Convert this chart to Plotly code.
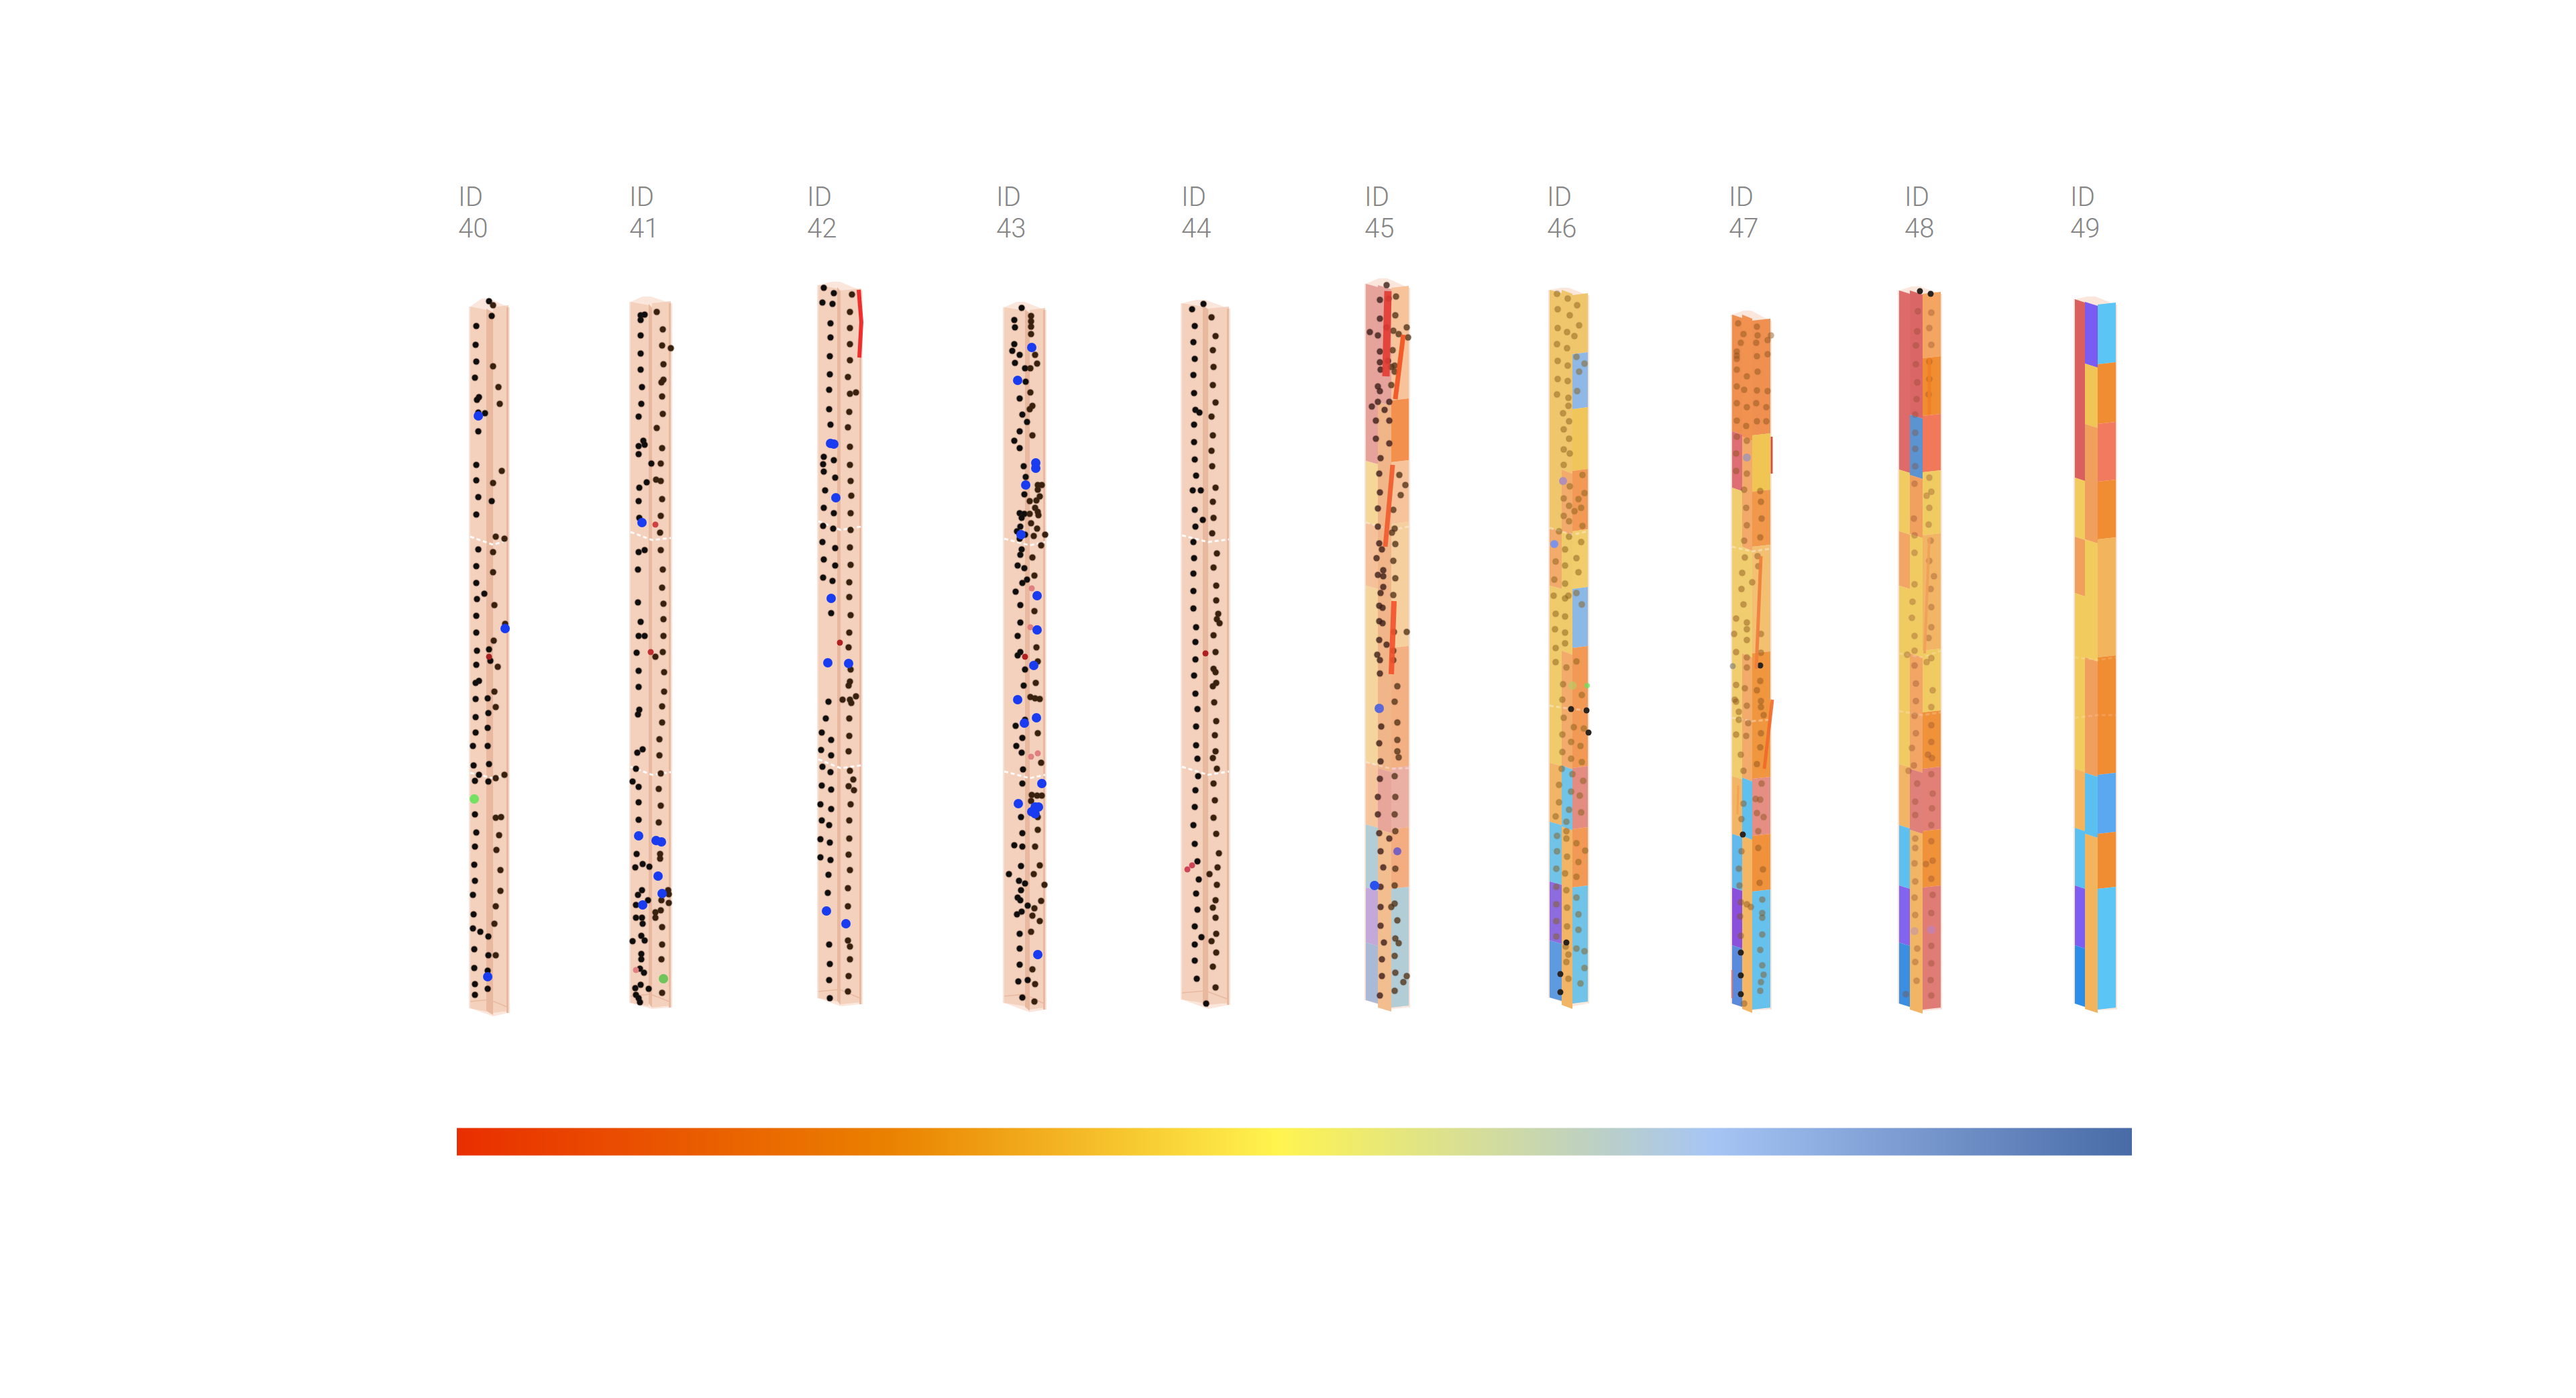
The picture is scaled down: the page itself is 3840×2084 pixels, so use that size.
import plotly.graph_objects as go

ids = [40, 41, 42, 43, 44, 45, 46, 47, 48, 49]
label_x = [683, 938, 1203, 1485, 1761, 2034, 2306, 2577, 2839, 3086]

# column outlines (left edge, two folds, right edge)
edge_a = [701, 940, 1220, 1497, 1762, 2036, 2310, 2582, 2831, 3093]
edge_b = [725, 967, 1248, 1528, 1793, 2054, 2328, 2597, 2847, 3108]
edge_c = [735, 972, 1253, 1535, 1801, 2074, 2344, 2612, 2866, 3127]
edge_d = [758, 1000, 1284, 1558, 1832, 2100, 2367, 2639, 2893, 3154]
top_left = [457, 450, 425, 458, 452, 423, 432, 469, 433, 446]
top_peak = [445, 442, 420, 450, 447, 415, 429, 463, 427, 442]
top_right = [458, 452, 433, 462, 460, 429, 440, 478, 438, 454]
bot_left = [1503, 1495, 1488, 1495, 1490, 1491, 1487, 1496, 1496, 1496]
bot_mid = [1513, 1502, 1498, 1507, 1502, 1502, 1498, 1504, 1505, 1504]
bot_right = [1510, 1502, 1497, 1505, 1498, 1502, 1496, 1505, 1505, 1505]

seam_left = [[800, 1152], [793, 1143], [777, 1132], [803, 1150], [798, 1143], [779, 1136], [787, 1052], [815, 1070], [974, 1060], [980, 1070]]
seam_mid = [[812, 1160], [805, 1155], [790, 1145], [813, 1160], [808, 1155], [790, 1146], [797, 1057], [822, 1075], [980, 1066], [984, 1066]]
seam_right = [[805, 1155], [802, 1151], [785, 1141], [808, 1155], [804, 1150], [785, 1145], [792, 1059], [818, 1073], [970, 1062], [980, 1066]]
seam_alpha = [0.9, 0.9, 0.9, 0.9, 0.9, 0.35, 0.35, 0.35, 0.2, 0.15]

peach = '#f4d1bd'
strip = '#e9b99f'

# layer breaks and colours per face, coloured columns only
id45_left_y = [423, 687, 779, 873, 1136, 1229, 1323, 1405, 1491]
id45_left_c = ['#e5a39c', '#f6d79a', '#f5c19b', '#f5d59e', '#f5c59d', '#b3cdd6', '#c3a9d9', '#a9b9d6']
id45_mid_y = [425, 599, 1145, 1236, 1502]
id45_mid_c = ['#e5a39c', '#f0b589', '#e8a59a', '#f2be90']
id45_right_y = [429, 597, 689, 781, 966, 1145, 1236, 1325, 1502]
id45_right_c = ['#f6c39b', '#f4904e', '#f6c39b', '#f6cf9e', '#f2b083', '#ebb0a4', '#f3ad80', '#b3cdd6']

id46_left_y = [432, 787, 873, 1137, 1225, 1314, 1402, 1487]
id46_left_c = ['#f0c66c', '#f3ab6b', '#f0cb6c', '#f2b565', '#71c3e8', '#8d6ce0', '#5d9ae0']
id46_mid_y = [432, 700, 792, 970, 1141, 1232, 1498]
id46_mid_c = ['#f0c66c', '#f3ab6b', '#f0cb6c', '#f3ab6b', '#71c3e8', '#f2b565']
id46_right_y = [440, 528, 610, 702, 792, 878, 966, 1145, 1236, 1323, 1496]
id46_right_c = ['#f0c66c', '#8fb8e6', '#f0c55a', '#f29a55', '#f2cd6c', '#8cb8e6', '#f29a55', '#e38c82', '#f29a55', '#71c3e8']

id47_left_y = [469, 643, 727, 1157, 1243, 1323, 1409, 1496]
id47_left_c = ['#f09050', '#de6e73', '#f0cd6e', '#f2b565', '#62b9ec', '#8a50dc', '#5a8adc']
id47_mid_y = [469, 651, 815, 974, 1159, 1246, 1504]
id47_mid_c = ['#f29250', '#f2a96a', '#f0cd6e', '#f2ab6a', '#5fc0ee', '#f3b665']
id47_right_y = [478, 649, 733, 815, 974, 1161, 1246, 1329, 1505]
id47_right_c = ['#f09050', '#f0c553', '#f1984a', '#f2c070', '#f0963e', '#e48e84', '#f0923c', '#66c2ec']

id48_left_y = [433, 700, 792, 873, 1139, 1230, 1320, 1405, 1496]
id48_left_c = ['#de6a6a', '#f0cb62', '#f2a564', '#f0cb62', '#f2b565', '#5fc0f0', '#8364ee', '#3b8fe0']
id48_mid_y = [433, 618, 708, 796, 974, 1146, 1237, 1505]
id48_mid_c = ['#da6666', '#5b94d0', '#f2a060', '#f0cb62', '#f2a564', '#e0807a', '#f2b565']
id48_right_y = [438, 534, 620, 704, 798, 970, 1062, 1146, 1239, 1323, 1505]
id48_right_c = ['#f3a561', '#f08c32', '#f2785a', '#f0cb62', '#f2b565', '#f0cb62', '#f0923a', '#e28078', '#f0923a', '#e07c76']

id49_left_y = [446, 712, 800, 884, 1146, 1234, 1320, 1409, 1496]
id49_left_c = ['#d9605f', '#f1cb5d', '#f19f5d', '#f1cb5d', '#f2b45c', '#5bc0f0', '#7d5ef0', '#2d8ee8']
id49_mid_y = [450, 542, 632, 804, 980, 1152, 1243, 1504]
id49_mid_c = ['#7a5cf2', '#f0c555', '#f19f5d', '#f1cb5d', '#f19f5d', '#5bc0f0', '#f2b45c']
id49_right_y = [454, 543, 632, 718, 804, 980, 1155, 1243, 1325, 1505]
id49_right_c = ['#5bc5f5', '#f08c32', '#f27a5f', '#f08c32', '#f2b45c', '#f08c32', '#5ba8f0', '#f08c32', '#5bc5f5']

face_y = {45: (id45_left_y, id45_mid_y, id45_right_y), 46: (id46_left_y, id46_mid_y, id46_right_y),
          47: (id47_left_y, id47_mid_y, id47_right_y), 48: (id48_left_y, id48_mid_y, id48_right_y),
          49: (id49_left_y, id49_mid_y, id49_right_y)}
face_c = {45: (id45_left_c, id45_mid_c, id45_right_c), 46: (id46_left_c, id46_mid_c, id46_right_c),
          47: (id47_left_c, id47_mid_c, id47_right_c), 48: (id48_left_c, id48_mid_c, id48_right_c),
          49: (id49_left_c, id49_mid_c, id49_right_c)}

# dots, per column
id40_x = [729, 735, 733, 710, 709, 710, 708, 714, 711, 713, 723, 713, 735, 743, 745, 710, 710, 713, 710, 748, 735, 733, 739, 752, 713, 735, 710, 735, 710, 722, 711, 737, 710, 753, 710, 736, 711, 729, 731, 710, 742, 714, 709, 737, 709, 727, 739, 728, 709, 727, 709, 705, 727, 706, 729, 714, 708, 728, 739, 752, 708, 739, 747, 710, 744, 708, 740, 707, 746, 708, 705, 746, 739, 706, 737, 705, 716, 728, 707, 728, 739, 707, 727, 708, 727, 708]
id40_y = [449, 455, 471, 486, 514, 539, 563, 592, 596, 615, 616, 643, 546, 577, 602, 693, 716, 741, 767, 702, 720, 747, 800, 803, 819, 823, 844, 853, 869, 885, 893, 902, 918, 930, 943, 955, 970, 968, 985, 991, 994, 1015, 1018, 1031, 1042, 1041, 1054, 1063, 1069, 1085, 1092, 1112, 1112, 1141, 1139, 1155, 1164, 1165, 1160, 1155, 1214, 1219, 1218, 1241, 1245, 1262, 1267, 1289, 1297, 1313, 1334, 1328, 1351, 1363, 1377, 1384, 1389, 1396, 1415, 1424, 1424, 1443, 1447, 1467, 1474, 1483]
id41_x = [955, 961, 955, 979, 955, 988, 987, 1000, 955, 989, 955, 989, 986, 957, 987, 956, 988, 952, 979, 959, 952, 961, 987, 952, 971, 985, 978, 985, 964, 953, 987, 952, 985, 953, 984, 961, 952, 985, 951, 988, 987, 951, 989, 989, 955, 952, 961, 989, 949, 988, 977, 952, 990, 952, 990, 987, 953, 951, 987, 983, 983, 958, 950, 948, 985, 943, 952, 982, 952, 985, 952, 982, 949, 984, 984, 958, 947, 968, 957, 951, 996, 997, 986, 997, 966, 948, 977, 977, 985, 948, 957, 958, 987, 956, 961, 943, 987, 956, 956, 986, 954, 960, 955, 947, 967, 948, 952, 987, 954]
id41_y = [470, 469, 477, 465, 500, 491, 515, 519, 527, 543, 551, 566, 570, 577, 591, 602, 617, 621, 638, 657, 665, 663, 668, 677, 691, 691, 715, 717, 719, 727, 744, 747, 769, 772, 794, 820, 823, 820, 849, 849, 876, 898, 900, 923, 927, 948, 948, 948, 973, 972, 979, 1000, 1002, 1024, 1031, 1053, 1058, 1065, 1077, 1102, 1126, 1117, 1122, 1146, 1153, 1165, 1173, 1176, 1196, 1201, 1222, 1226, 1273, 1273, 1280, 1288, 1293, 1292, 1327, 1334, 1327, 1333, 1342, 1346, 1342, 1349, 1360, 1368, 1357, 1368, 1368, 1377, 1382, 1395, 1402, 1403, 1408, 1422, 1430, 1430, 1444, 1450, 1468, 1473, 1474, 1483, 1488, 1480, 1494]
id42_x = [1228, 1243, 1270, 1226, 1241, 1267, 1238, 1267, 1238, 1267, 1237, 1267, 1237, 1264, 1236, 1267, 1276, 1236, 1266, 1238, 1264, 1267, 1228, 1243, 1227, 1267, 1228, 1245, 1268, 1230, 1269, 1228, 1243, 1268, 1227, 1242, 1268, 1226, 1245, 1267, 1228, 1245, 1268, 1227, 1241, 1266, 1266, 1239, 1268, 1266, 1265, 1268, 1267, 1265, 1276, 1256, 1267, 1269, 1235, 1231, 1266, 1225, 1266, 1239, 1265, 1224, 1239, 1226, 1238, 1267, 1272, 1225, 1239, 1265, 1273, 1223, 1239, 1268, 1225, 1236, 1266, 1223, 1237, 1266, 1223, 1238, 1265, 1235, 1267, 1234, 1264, 1264, 1264, 1236, 1267, 1237, 1267, 1236, 1265, 1237, 1264]
id42_y = [429, 437, 439, 451, 453, 465, 482, 489, 503, 513, 531, 537, 558, 562, 581, 587, 585, 610, 614, 633, 637, 666, 681, 686, 692, 693, 703, 712, 717, 731, 739, 757, 765, 765, 784, 788, 790, 808, 817, 816, 834, 843, 842, 861, 866, 868, 890, 914, 917, 943, 965, 998, 1016, 1022, 1038, 1043, 1043, 1048, 1046, 1071, 1071, 1092, 1097, 1103, 1120, 1118, 1126, 1143, 1151, 1149, 1162, 1171, 1177, 1172, 1178, 1199, 1206, 1199, 1223, 1230, 1223, 1251, 1256, 1250, 1278, 1282, 1274, 1304, 1297, 1331, 1324, 1351, 1402, 1408, 1411, 1437, 1430, 1461, 1455, 1488, 1478]
id43_x = [1523, 1512, 1513, 1537, 1537, 1537, 1537, 1512, 1509, 1520, 1543, 1513, 1546, 1528, 1536, 1529, 1536, 1520, 1539, 1535, 1524, 1531, 1520, 1539, 1512, 1520, 1526, 1529, 1547, 1553, 1547, 1527, 1550, 1535, 1545, 1543, 1547, 1520, 1527, 1535, 1548, 1523, 1537, 1521, 1546, 1516, 1528, 1520, 1541, 1558, 1552, 1523, 1521, 1539, 1517, 1527, 1542, 1531, 1524, 1514, 1521, 1542, 1521, 1517, 1545, 1521, 1517, 1547, 1528, 1544, 1526, 1536, 1543, 1550, 1528, 1514, 1547, 1524, 1515, 1523, 1552, 1525, 1524, 1538, 1546, 1553, 1537, 1522, 1547, 1524, 1547, 1512, 1524, 1543, 1522, 1550, 1504, 1541, 1519, 1528, 1557, 1522, 1517, 1521, 1552, 1532, 1542, 1523, 1516, 1539, 1550, 1537, 1520, 1520, 1520, 1539, 1518, 1532, 1543, 1524, 1542]
id43_y = [459, 477, 488, 471, 479, 487, 498, 513, 523, 529, 529, 541, 542, 549, 549, 569, 585, 594, 605, 610, 618, 629, 643, 649, 657, 668, 695, 711, 723, 723, 730, 737, 740, 747, 746, 757, 763, 765, 766, 766, 768, 772, 780, 785, 788, 792, 797, 803, 799, 797, 813, 819, 827, 831, 843, 847, 858, 864, 869, 882, 902, 911, 928, 948, 965, 972, 977, 986, 998, 1018, 1022, 1039, 1041, 1042, 1073, 1082, 1093, 1100, 1112, 1122, 1137, 1147, 1168, 1185, 1186, 1186, 1194, 1218, 1218, 1242, 1237, 1260, 1262, 1262, 1291, 1290, 1303, 1303, 1313, 1317, 1319, 1327, 1338, 1342, 1343, 1350, 1354, 1359, 1363, 1365, 1373, 1389, 1392, 1414, 1438, 1445, 1463, 1461, 1467, 1487, 1493]
id44_x = [1794, 1777, 1806, 1781, 1812, 1779, 1808, 1781, 1809, 1779, 1808, 1780, 1812, 1782, 1788, 1806, 1780, 1808, 1780, 1806, 1781, 1807, 1783, 1812, 1778, 1790, 1808, 1781, 1809, 1793, 1782, 1807, 1779, 1814, 1780, 1809, 1779, 1813, 1779, 1813, 1779, 1816, 1814, 1818, 1783, 1809, 1782, 1812, 1782, 1809, 1812, 1780, 1813, 1808, 1782, 1810, 1785, 1783, 1813, 1811, 1783, 1812, 1808, 1785, 1814, 1786, 1809, 1782, 1811, 1781, 1809, 1779, 1813, 1781, 1817, 1785, 1815, 1803, 1787, 1814, 1783, 1812, 1808, 1785, 1812, 1781, 1813, 1791, 1806, 1781, 1813, 1781, 1808, 1784, 1812, 1798]
id44_y = [453, 461, 473, 486, 501, 510, 522, 535, 547, 559, 574, 586, 600, 611, 615, 621, 633, 649, 659, 672, 685, 695, 709, 727, 731, 731, 748, 760, 772, 775, 785, 795, 808, 825, 832, 846, 855, 873, 881, 895, 907, 915, 923, 929, 935, 947, 957, 972, 983, 997, 1002, 1007, 1018, 1023, 1034, 1047, 1057, 1083, 1075, 1096, 1111, 1120, 1130, 1131, 1146, 1157, 1168, 1178, 1193, 1203, 1219, 1230, 1243, 1258, 1272, 1284, 1293, 1303, 1311, 1319, 1332, 1342, 1353, 1356, 1368, 1381, 1392, 1397, 1403, 1408, 1420, 1432, 1441, 1459, 1472, 1496]
id45_x = [2067, 2057, 2070, 2081, 2057, 2080, 2042, 2054, 2067, 2077, 2097, 2085, 2099, 2057, 2076, 2057, 2069, 2058, 2079, 2074, 2079, 2074, 2054, 2057, 2054, 2045, 2071, 2064, 2051, 2071, 2051, 2071, 2058, 2056, 2086, 2095, 2057, 2088, 2054, 2077, 2054, 2079, 2075, 2056, 2080, 2060, 2052, 2077, 2062, 2054, 2062, 2080, 2062, 2058, 2077, 2056, 2061, 2056, 2061, 2078, 2097, 2056, 2067, 2077, 2053, 2057, 2077, 2057, 2083, 2079, 2059, 2083, 2056, 2083, 2083, 2085, 2058, 2057, 2079, 2054, 2080, 2054, 2079, 2056, 2080, 2071, 2058, 2062, 2080, 2058, 2079, 2058, 2074, 2079, 2083, 2058, 2080, 2085, 2063, 2079, 2060, 2060, 2080, 2097, 2092, 2079, 2057]
id45_y = [425, 447, 445, 442, 475, 470, 495, 500, 488, 493, 488, 498, 503, 524, 522, 540, 538, 551, 545, 547, 554, 574, 576, 583, 599, 606, 599, 611, 627, 627, 654, 661, 683, 706, 708, 723, 734, 738, 758, 760, 785, 788, 794, 810, 811, 819, 832, 836, 850, 857, 859, 862, 875, 884, 887, 903, 906, 926, 929, 942, 942, 954, 961, 970, 976, 984, 984, 1004, 1023, 1046, 1083, 1077, 1108, 1103, 1120, 1129, 1135, 1161, 1157, 1188, 1188, 1214, 1214, 1242, 1239, 1250, 1269, 1293, 1295, 1322, 1320, 1352, 1352, 1347, 1372, 1380, 1399, 1406, 1405, 1425, 1430, 1455, 1450, 1455, 1464, 1477, 1484]
id46_x = [2337, 2321, 2351, 2322, 2340, 2354, 2322, 2336, 2347, 2321, 2336, 2322, 2337, 2350, 2362, 2354, 2322, 2337, 2351, 2321, 2338, 2338, 2330, 2339, 2331, 2339, 2331, 2340, 2331, 2359, 2330, 2340, 2362, 2331, 2353, 2339, 2357, 2347, 2331, 2339, 2359, 2324, 2339, 2357, 2333, 2350, 2319, 2333, 2353, 2317, 2333, 2316, 2333, 2338, 2350, 2358, 2319, 2333, 2318, 2333, 2319, 2333, 2319, 2335, 2350, 2330, 2358, 2329, 2331, 2346, 2361, 2329, 2342, 2356, 2329, 2342, 2358, 2328, 2344, 2360, 2324, 2342, 2355, 2324, 2339, 2357, 2319, 2335, 2335, 2350, 2321, 2335, 2363, 2321, 2336, 2353, 2320, 2333, 2350, 2320, 2335, 2350, 2320, 2336, 2353, 2320, 2336, 2353, 2320, 2334, 2350, 2362, 2338, 2335, 2362, 2338, 2356]
id46_y = [445, 438, 455, 461, 470, 485, 489, 495, 501, 513, 519, 538, 545, 532, 542, 554, 565, 568, 583, 588, 593, 605, 616, 628, 640, 654, 670, 676, 693, 708, 717, 725, 735, 743, 744, 754, 757, 762, 769, 777, 784, 792, 800, 808, 819, 832, 837, 843, 853, 864, 870, 888, 892, 888, 884, 901, 915, 919, 938, 943, 966, 959, 987, 995, 986, 1020, 1036, 1043, 1070, 1084, 1086, 1095, 1106, 1112, 1121, 1131, 1136, 1146, 1154, 1164, 1170, 1180, 1186, 1196, 1207, 1211, 1217, 1225, 1239, 1257, 1246, 1250, 1268, 1269, 1277, 1285, 1295, 1302, 1307, 1322, 1327, 1338, 1348, 1353, 1363, 1373, 1381, 1386, 1396, 1411, 1414, 1418, 1423, 1434, 1443, 1459, 1466]
id46_dark_x = [2342, 2365, 2368, 2335, 2326, 2326]
id46_dark_y = [1057, 1059, 1092, 1405, 1452, 1479]
id47_x = [2591, 2619, 2599, 2620, 2635, 2640, 2595, 2618, 2589, 2589, 2589, 2635, 2619, 2589, 2620, 2604, 2589, 2600, 2619, 2635, 2589, 2604, 2618, 2633, 2589, 2603, 2619, 2633, 2589, 2604, 2588, 2588, 2604, 2600, 2624, 2625, 2603, 2626, 2604, 2624, 2600, 2601, 2620, 2597, 2621, 2612, 2596, 2599, 2588, 2604, 2604, 2585, 2604, 2625, 2588, 2604, 2625, 2604, 2588, 2601, 2624, 2619, 2586, 2604, 2625, 2588, 2625, 2592, 2592, 2629, 2606, 2603, 2588, 2625, 2624, 2595, 2619, 2599, 2626, 2617, 2624, 2599, 2619, 2629, 2596, 2621, 2621, 2596, 2628, 2592, 2623, 2593, 2595, 2604, 2610, 2627, 2627, 2627, 2594, 2595, 2627, 2624, 2627, 2629, 2625, 2624, 2600]
id47_y = [482, 487, 498, 500, 507, 500, 511, 511, 524, 530, 535, 528, 531, 551, 554, 561, 576, 581, 582, 583, 601, 607, 601, 607, 627, 635, 628, 628, 651, 657, 676, 702, 706, 730, 732, 748, 757, 773, 783, 801, 806, 831, 829, 854, 844, 868, 878, 901, 922, 928, 938, 945, 954, 945, 972, 980, 973, 995, 1021, 1026, 1015, 1029, 1043, 1052, 1045, 1046, 1054, 1061, 1073, 1066, 1078, 1097, 1095, 1093, 1114, 1125, 1139, 1149, 1168, 1191, 1192, 1198, 1212, 1218, 1221, 1239, 1264, 1269, 1296, 1295, 1316, 1320, 1345, 1348, 1352, 1341, 1361, 1368, 1366, 1395, 1393, 1416, 1439, 1453, 1464, 1477, 1496]
id47_dark_x = [2624, 2598, 2595, 2595, 2595]
id47_dark_y = [992, 1244, 1420, 1454, 1482]
id47_gray_x = [2583]
id47_gray_y = [993]
id48_x = [2859, 2879, 2876, 2858, 2879, 2856, 2856, 2876, 2858, 2876, 2857, 2875, 2855, 2855, 2855, 2855, 2876, 2854, 2879, 2872, 2876, 2853, 2875, 2878, 2854, 2854, 2876, 2883, 2854, 2878, 2879, 2851, 2850, 2879, 2854, 2875, 2854, 2843, 2879, 2854, 2872, 2856, 2881, 2856, 2879, 2854, 2879, 2856, 2879, 2850, 2874, 2880, 2853, 2845, 2879, 2858, 2881, 2855, 2880, 2855, 2879, 2855, 2855, 2879, 2854, 2881, 2871, 2855, 2879, 2854, 2881, 2855, 2879, 2879, 2858, 2855, 2879, 2857, 2878, 2841, 2879]
id48_y = [464, 466, 489, 494, 514, 515, 543, 539, 570, 565, 595, 588, 618, 645, 669, 695, 712, 721, 733, 739, 757, 773, 782, 806, 798, 824, 836, 859, 871, 878, 905, 897, 921, 935, 948, 951, 970, 976, 981, 992, 987, 1019, 1029, 1045, 1054, 1067, 1081, 1093, 1106, 1115, 1125, 1130, 1141, 1149, 1154, 1168, 1183, 1195, 1205, 1215, 1230, 1264, 1250, 1254, 1287, 1283, 1288, 1314, 1310, 1338, 1334, 1364, 1361, 1410, 1414, 1434, 1436, 1462, 1461, 1482, 1484]
id48_dark_x = [2862, 2878]
id48_dark_y = [434, 438]

dot_x = [id40_x, id41_x, id42_x, id43_x, id44_x, id45_x, id46_x, id47_x, id48_x]
dot_y = [id40_y, id41_y, id42_y, id43_y, id44_y, id45_y, id46_y, id47_y, id48_y]
dot_left = ['#0e0e0e', '#0e0e0e', '#0e0e0e', '#0e0e0e', '#0e0e0e', 'rgba(60,30,25,0.8)',
            'rgba(135,95,25,0.5)', 'rgba(135,80,25,0.45)', 'rgba(140,70,40,0.34)']
dot_right = ['#38220f', '#38220f', '#38220f', '#38220f', '#38220f', 'rgba(85,55,25,0.8)',
             'rgba(135,95,25,0.5)', 'rgba(135,80,25,0.45)', 'rgba(140,70,40,0.34)']
halo = ['rgba(60,30,20,0.25)'] * 5 + ['rgba(60,30,20,0.18)', 'rgba(130,90,30,0.14)', 'rgba(130,90,30,0.12)', 'rgba(130,80,50,0.1)']

dark_x = id46_dark_x + id47_dark_x + id48_dark_x
dark_y = id46_dark_y + id47_dark_y + id48_dark_y

blue_x = [713, 753, 727, 957, 952, 978, 986, 981, 987, 958, 1238, 1243, 1246, 1239, 1234, 1265, 1232, 1261,
          1538, 1517, 1544, 1544, 1529, 1522, 1546, 1546, 1541, 1517, 1545, 1527, 1553, 1518, 1543, 1543, 1538, 1548, 1547,
          2056, 2049]
blue_y = [620, 937, 1456, 779, 1246, 1253, 1255, 1306, 1332, 1349, 661, 662, 742, 892, 988, 989, 1358, 1377,
          518, 567, 690, 698, 723, 797, 888, 939, 992, 1043, 1070, 1078, 1168, 1198, 1203, 1213, 1210, 1203, 1423,
          1056, 1320]
blue_c = ['#1a3cf0'] * 37 + ['#5a68d8', '#2a50f0']
soft_x = [2083, 2317, 2330, 2604, 2854, 2879]
soft_y = [1269, 811, 717, 682, 1388, 1386]
soft_c = ['#7a62c0', '#7f93e8', '#b090b8', '#b09aa8', '#d6a28a', '#c880a8']
red_x = [729, 977, 970, 1252, 1528, 1797, 1777, 1770, 1538, 1536, 1537, 1547, 948]
red_y = [979, 782, 972, 958, 979, 974, 1290, 1296, 877, 935, 1128, 1123, 1446]
red_c = ['#a82020', '#d04040', '#c03030', '#b02020', '#b02020', '#b02020', '#cc4455', '#cc4455', '#e08080', '#e08080', '#e08080', '#e08080', '#e08080']
green_x = [707, 989, 2366, 2344]
green_y = [1191, 1459, 1022, 1022]
green_c = ['#3de83d', '#35c030', '#5ae85a', '#bcc860']
green_s = [14, 14, 8, 13]

stroke_x = [[1280, 1284, 1281], [2069, 2066], [2092, 2080], [2076, 2065], [2078, 2074], [2641, 2641], [2625, 2618], [2642, 2630], [2591, 2590], [2582, 2582], [2876, 2869], [2876, 2876]]
stroke_y = [[432, 480, 533], [434, 561], [499, 595], [693, 815], [896, 1005], [651, 706], [829, 997], [1043, 1146], [1171, 1214], [1446, 1488], [802, 974], [534, 618]]
stroke_c = ['#ee2020', '#e33b33', '#f4501e', '#f25a2c', '#f4502a', '#d03c2c', '#f07d3a', '#f26a28', '#f2a050', '#e87070', '#f0a05a', '#f07f20']
stroke_w = [6, 11, 7, 7, 8, 3, 5, 5, 3, 2, 4, 5]

bar_stops = [[0, '#e92e00'], [0.26, '#ea8200'], [0.49, '#fff44f'], [0.68, '#bcd0c4'], [0.75, '#a6c5f5'], [1, '#486aa6']]

fig = go.Figure()


def poly(xs, ys, color):
    fig.add_trace(go.Scatter(x=xs, y=ys, mode='lines', fill='toself', fillcolor=color,
                             line=dict(width=0, color=color), hoverinfo='skip'))


# slant of a layer break across each face
slants = [5, 6, -3]

for i, n in enumerate(ids):
    a, b, c, d = edge_a[i], edge_b[i], edge_c[i], edge_d[i]
    # pale halo and the top cap
    poly([a - 2, a - 2, d + 2, d + 2], [top_left[i], bot_left[i], bot_right[i], top_right[i]], '#f9e3d8')
    poly([a, a + (d - a) * 0.3, a + (d - a) * 0.5, d, c], [top_left[i], top_peak[i], top_peak[i], top_right[i], top_left[i] + 7], '#fbe6dc')
    poly([a, c, d], [bot_left[i], bot_mid[i] + 2, bot_right[i]], '#fbe6dc')
    if n < 45:
        ys = ([top_left[i], bot_left[i]], [top_left[i] + 3, bot_mid[i] - 6], [top_right[i], bot_right[i]])
        cs = ([peach], [strip], [peach])
    else:
        ys, cs = face_y[n], face_c[n]
    bounds = [(a, b), (b, c), (c, d)]
    for k in range(3):
        x0, x1 = bounds[k]
        for j in range(len(cs[k])):
            y0, y1 = ys[k][j], ys[k][j + 1]
            poly([x0, x1, x1, x0], [y0, y0 + slants[k], y1 + slants[k], y1], cs[k][j])
    if n < 45:
        # thin darker edges and the fold, plus the back of the base
        fig.add_trace(go.Scatter(x=[d - 1.5, d - 1.5], y=[top_right[i], bot_right[i]], mode='lines',
                                 line=dict(color=strip, width=3), hoverinfo='skip'))
        fig.add_trace(go.Scatter(x=[a, (a + d) / 2, d], y=[bot_left[i] - 10, bot_left[i] - 13, bot_right[i] - 8], mode='lines',
                                 line=dict(color=strip, width=1.5), hoverinfo='skip'))
    # white seams between the sections
    for s in range(2):
        fig.add_trace(go.Scatter(x=[a, c, d], y=[seam_left[i][s], seam_mid[i][s], seam_right[i][s]], mode='lines',
                                 opacity=seam_alpha[i], line=dict(color='white', width=3, dash='6px,4px'), hoverinfo='skip'))

# marks inside the columns
for i in range(len(dot_x)):
    fold = edge_c[i]
    colors = [dot_left[i] if v < fold else dot_right[i] for v in dot_x[i]]
    fig.add_trace(go.Scatter(x=dot_x[i], y=dot_y[i], mode='markers', hoverinfo='skip',
                             marker=dict(size=9, color=colors, symbol='circle', line=dict(width=2, color=halo[i]))))

fig.add_trace(go.Scatter(x=dark_x, y=dark_y, mode='markers', hoverinfo='skip',
                         marker=dict(size=9, color='#2a2420', symbol='circle', line=dict(width=0))))
fig.add_trace(go.Scatter(x=id47_gray_x, y=id47_gray_y, mode='markers', hoverinfo='skip',
                         marker=dict(size=9, color='rgba(120,120,110,0.6)', symbol='circle', line=dict(width=0))))

for i in range(len(stroke_x)):
    fig.add_trace(go.Scatter(x=stroke_x[i], y=stroke_y[i], mode='lines', hoverinfo='skip', opacity=0.9,
                             line=dict(color=stroke_c[i], width=stroke_w[i])))

fig.add_trace(go.Scatter(x=red_x, y=red_y, mode='markers', hoverinfo='skip',
                         marker=dict(size=9, color=red_c, line=dict(width=0))))
fig.add_trace(go.Scatter(x=soft_x, y=soft_y, mode='markers', hoverinfo='skip',
                         marker=dict(size=12, color=soft_c, line=dict(width=0))))
fig.add_trace(go.Scatter(x=blue_x, y=blue_y, mode='markers', hoverinfo='skip',
                         marker=dict(size=14, color=blue_c, line=dict(width=0))))
fig.add_trace(go.Scatter(x=green_x, y=green_y, mode='markers', hoverinfo='skip',
                         marker=dict(size=green_s, color=green_c, line=dict(width=0))))

# the ramp below the columns, one hidden point carries the colour bar
fig.add_trace(go.Scatter(x=[-50, -50], y=[-50, -50], mode='markers', hoverinfo='skip',
                         marker=dict(color=[0, 1], cmin=0, cmax=1, colorscale=bar_stops, showscale=True,
                                     colorbar=dict(orientation='h', lenmode='pixels', len=2497,
                                                   thicknessmode='pixels', thickness=41,
                                                   x=681 / 3840, xanchor='left', y=1 - 1702 / 2084, yanchor='middle',
                                                   outlinewidth=0, ticks='', showticklabels=False, xpad=0, ypad=0))))

for i, n in enumerate(ids):
    for text, ypos in (('ID', 293), (str(n), 340)):
        fig.add_annotation(x=label_x[i], y=ypos, text=text, showarrow=False, xanchor='left', yanchor='middle',
                           xshift=-2, font=dict(family='Roboto', size=40, color='#858585', weight=300))

fig.update_layout(width=3840, height=2084, margin=dict(l=0, r=0, t=0, b=0), showlegend=False,
                  plot_bgcolor='white', paper_bgcolor='white',
                  xaxis=dict(range=[0, 3840], visible=False, fixedrange=True),
                  yaxis=dict(range=[2084, 0], visible=False, fixedrange=True))

fig.write_html("out.html", config=dict(displayModeBar=False),
               post_script="document.body.style.margin='0';document.body.style.overflow='hidden';")
